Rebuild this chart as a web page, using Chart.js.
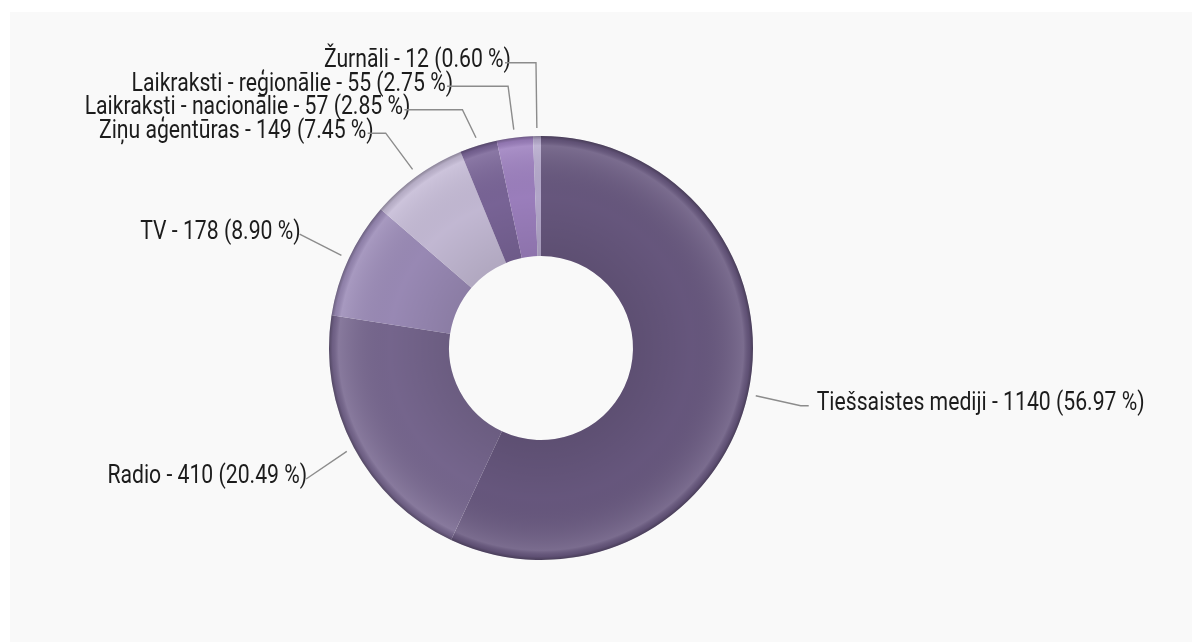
<!DOCTYPE html>
<html>
<head>
<meta charset="utf-8">
<script src="https://cdn.jsdelivr.net/npm/chart.js@4.4.1/dist/chart.umd.min.js"></script>
<style>
  html, body { margin: 0; padding: 0; background: #ffffff; }
  #wrap { position: absolute; left: 10px; top: 12px; width: 1182px; height: 630px; background: #f9f9f9; }
</style>
</head>
<body>
<div id="wrap"><canvas id="media-chart"></canvas></div>
<script>
// Media mentions by channel
const categories = ['Tiešsaistes mediji', 'Radio', 'TV', 'Ziņu aģentūras', 'Laikraksti - nacionālie', 'Laikraksti - reģionālie', 'Žurnāli'];
const counts = [1140, 410, 178, 149, 57, 55, 12];
const sliceColors = ['#68587f', '#77678f', '#9b8bb7', '#c5bbd6', '#7a6598', '#9d80bf', '#b6aacd'];

// label layout tweaks: horizontal nudge of left-side text, vertical nudge of elbow
const labelShift = [0, 1, 1, -12, -52, -55, -25];
const labelDy = [0, 6, -2, 0, 0, 0, 0];

const total = counts.reduce((a, b) => a + b, 0);
const labelText = categories.map((c, i) => c + ' - ' + counts[i] + ' (' + (counts[i] / total * 100).toFixed(2) + ' %)');

const FONT_SIZE = 26;
const SCALE_X = 0.815;

function relax(items, minGap) {
  items.sort((a, b) => a.y - b.y);
  for (let k = 0; k < 100; k++) {
    let moved = false;
    for (let j = 0; j < items.length - 1; j++) {
      const gap = items[j + 1].y - items[j].y;
      if (gap < minGap) {
        const d = (minGap - gap) / 2;
        items[j].y -= d;
        items[j + 1].y += d;
        moved = true;
      }
    }
    if (!moved) break;
  }
}

const outsideLabels = {
  id: 'outsideLabels',
  afterDatasetsDraw(chart) {
    const ctx = chart.ctx;
    const meta = chart.getDatasetMeta(0);
    const a0 = meta.data[0];
    const cx = a0.x, cy = a0.y, outer = a0.outerRadius, inner = a0.innerRadius;

    // bevel shading over the ring
    ctx.save();
    const g = ctx.createRadialGradient(cx, cy, inner, cx, cy, outer);
    g.addColorStop(0, 'rgba(0,0,0,0.10)');
    g.addColorStop(0.5, 'rgba(0,0,0,0.02)');
    g.addColorStop(0.92, 'rgba(255,255,255,0.12)');
    g.addColorStop(0.97, 'rgba(0,0,0,0.08)');
    g.addColorStop(1, 'rgba(0,0,0,0.30)');
    ctx.fillStyle = g;
    ctx.beginPath();
    ctx.arc(cx, cy, outer, 0, Math.PI * 2);
    ctx.arc(cx, cy, inner, 0, Math.PI * 2, true);
    ctx.fill();
    ctx.restore();

    const items = meta.data.map((arc, i) => {
      const mid = (arc.startAngle + arc.endAngle) / 2;
      const c = Math.cos(mid), s = Math.sin(mid);
      return {
        i,
        side: c >= 0 ? 1 : -1,
        sx: cx + c * (outer + 8), sy: cy + s * (outer + 8),
        x: cx + c * outer * 1.255, y: cy + s * outer * 1.255 + labelDy[i]
      };
    });
    relax(items.filter(d => d.side < 0), 23.5);
    relax(items.filter(d => d.side > 0), 23.5);

    ctx.save();
    ctx.strokeStyle = '#8c8c8c';
    ctx.lineWidth = 1.4;
    ctx.font = FONT_SIZE + 'px Roboto';
    ctx.fillStyle = '#1c1c1c';
    ctx.textBaseline = 'middle';
    items.forEach(d => {
      const txt = labelText[d.i];
      const w = ctx.measureText(txt).width * SCALE_X;
      let textX, lineEnd;
      if (d.side > 0) {
        lineEnd = d.x + 8;
        textX = d.x + 16;
      } else {
        const right = d.x + labelShift[d.i];
        lineEnd = labelShift[d.i] < 0 ? right - 6 : d.x;
        textX = right - w;
      }
      ctx.save();
      ctx.translate(textX, d.y - 2);
      ctx.scale(SCALE_X, 1);
      ctx.textAlign = 'left';
      ctx.fillText(txt, 0, 0);
      ctx.restore();
      ctx.beginPath();
      ctx.moveTo(d.sx, d.sy);
      ctx.lineTo(d.x, d.y);
      ctx.lineTo(lineEnd, d.y);
      ctx.stroke();
    });
    ctx.restore();
  }
};

new Chart(document.getElementById('media-chart'), {
  type: 'doughnut',
  data: {
    labels: categories,
    datasets: [{
      data: counts,
      backgroundColor: sliceColors,
      borderWidth: 0,
      hoverOffset: 0
    }]
  },
  options: {
    responsive: true,
    maintainAspectRatio: false,
    animation: false,
    cutout: '43.4%',
    layout: { padding: { top: 124, bottom: 82, left: 319, right: 439 } },
    plugins: {
      legend: { display: false },
      tooltip: { enabled: false }
    }
  },
  plugins: [outsideLabels]
});
</script>
</body>
</html>
